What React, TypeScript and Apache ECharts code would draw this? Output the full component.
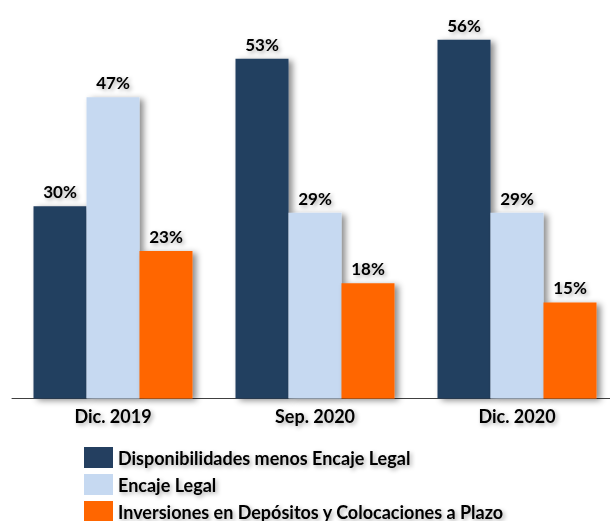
import React, { useEffect, useRef } from "react";
import * as echarts from "echarts";

const categories = ["Dic. 2019", "Sep. 2020", "Dic. 2020"];
const seriesNames = [
  "Disponibilidades menos Encaje Legal",
  "Encaje Legal",
  "Inversiones en Depósitos y Colocaciones a Plazo",
];
const disponibilidades = [30, 53, 56];
const encaje = [47, 29, 29];
const inversiones = [23, 18, 15];
const colors = ["#243F60", "#C6D9F1", "#FF6600"];

const FONT = "Lato";

export default function App() {
  const ref = useRef<HTMLDivElement>(null);
  useEffect(() => {
    if (!ref.current) return;
    const chart = echarts.init(ref.current, undefined, { renderer: "svg" });
    const textShadow = {
      textShadowColor: "rgba(0,0,0,0.35)",
      textShadowBlur: 4,
      textShadowOffsetX: 2,
      textShadowOffsetY: 2,
    };
    const mk = (name: string, data: number[], color: string) => ({
      name,
      type: "bar",
      data,
      barWidth: 53,
      barGap: "0%",
      itemStyle: {
        color,
        shadowColor: "rgba(0,0,0,0.45)",
        shadowBlur: 6,
        shadowOffsetX: 4,
        shadowOffsetY: 2,
      },
      label: {
        show: true,
        position: "top",
        distance: 6,
        formatter: "{c}%",
        color: "#000",
        fontFamily: FONT,
        fontWeight: "bold",
        fontSize: 17,
        ...textShadow,
      },
    });
    chart.setOption({
      animation: false,
      grid: { left: 12, width: 606, top: 14, height: 384.5 },
      xAxis: {
        type: "category",
        data: categories,
        axisLine: { lineStyle: { color: "#404040", width: 1 } },
        axisTick: { show: false },
        axisLabel: {
          color: "#000",
          fontFamily: FONT,
          fontWeight: "bold",
          fontSize: 18,
          margin: 8,
          ...textShadow,
        },
      },
      yAxis: {
        type: "value",
        min: 0,
        max: 60,
        show: false,
        splitLine: { show: false },
      },
      legend: {
        orient: "vertical",
        left: 79,
        top: 442,
        itemWidth: 29,
        itemHeight: 21,
        itemGap: 6,
        icon: "rect",
        data: seriesNames,
        textStyle: {
          color: "#000",
          fontFamily: FONT,
          fontWeight: "bold",
          fontSize: 18,
          ...textShadow,
        },
      },
      series: [
        mk(seriesNames[0], disponibilidades, colors[0]),
        mk(seriesNames[1], encaje, colors[1]),
        mk(seriesNames[2], inversiones, colors[2]),
      ],
    });
    return () => chart.dispose();
  }, []);
  return (
    <div style={{ width: 610, height: 521, position: "absolute", left: 0, top: 0, overflow: "hidden" }}>
      <div ref={ref} style={{ width: 630, height: 580 }} />
    </div>
  );
}
